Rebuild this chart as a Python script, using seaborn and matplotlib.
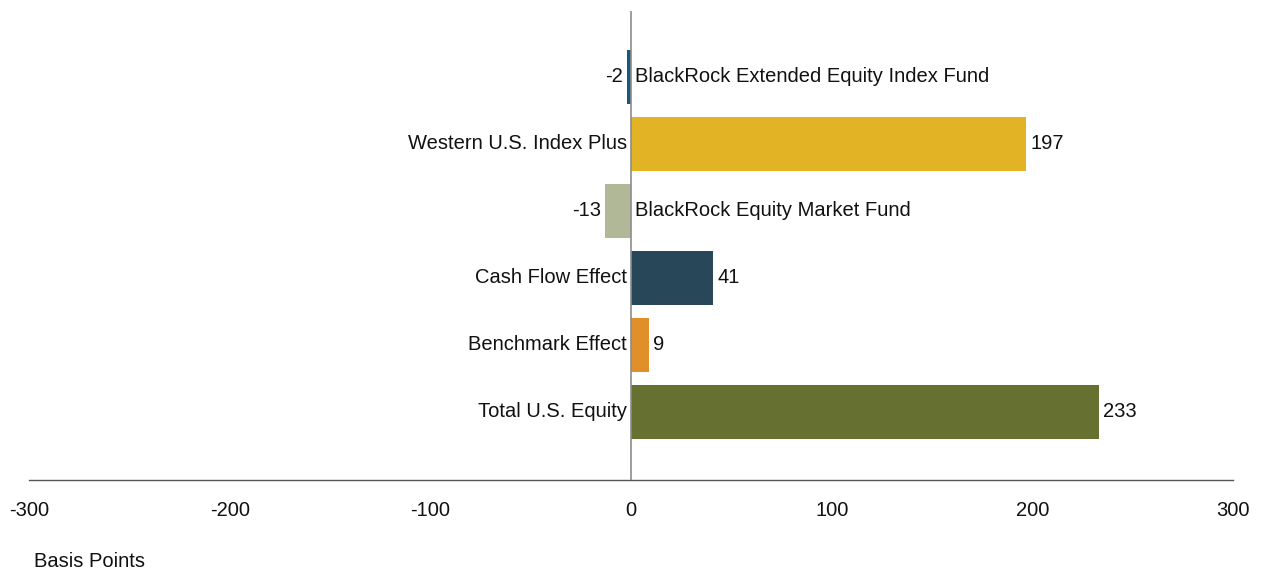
import matplotlib
matplotlib.use("Agg")
import matplotlib.pyplot as plt
import pandas as pd
import seaborn as sns

CATEGORIES = [
    "BlackRock Extended Equity Index Fund",
    "Western U.S. Index Plus",
    "BlackRock Equity Market Fund",
    "Cash Flow Effect",
    "Benchmark Effect",
    "Total U.S. Equity",
]
VALUES = [-2, 197, -13, 41, 9, 233]
COLORS = ["#15597f", "#e3b326", "#b1b897", "#284759", "#e18f2a", "#667031"]
X_TICKS = [-300, -200, -100, 0, 100, 200, 300]
X_LABEL = "Basis Points"

FONT_SIZE = 14.5
TEXT_COLOR = "#111111"

sns.set_theme(style="white")
plt.rcParams["font.family"] = ["Liberation Sans", "DejaVu Sans"]

data = pd.DataFrame({"category": CATEGORIES, "value": VALUES})

fig = plt.figure(figsize=(12.64, 5.76), dpi=100)
ax = fig.add_axes([0.023, 0.167, 0.9525, 0.814])

sns.barplot(
    data=data,
    x="value",
    y="category",
    hue="category",
    palette=COLORS,
    orient="h",
    width=0.8,
    legend=False,
    saturation=1,
    linewidth=0,
    ax=ax,
)

ax.set_xlim(-300, 300)
ax.set_ylim(len(CATEGORIES) + 0.015, -0.985)
ax.axvline(0, color="#8c8c8c", linewidth=1.2, zorder=3)

for spine in ["top", "right", "left"]:
    ax.spines[spine].set_visible(False)
ax.spines["bottom"].set_color("#555555")
ax.spines["bottom"].set_linewidth(1.0)

ax.set_xticks(X_TICKS)
ax.set_xticklabels([str(t) for t in X_TICKS], fontsize=FONT_SIZE, color=TEXT_COLOR)
ax.tick_params(axis="x", length=0, pad=15)
ax.set_yticks([])
ax.set_ylabel("")
ax.set_xlabel("")

pad = 2.0
for i, (name, val) in enumerate(zip(CATEGORIES, VALUES)):
    if val >= 0:
        ax.text(-pad, i, name, ha="right", va="center", fontsize=FONT_SIZE, color=TEXT_COLOR)
        ax.text(val + pad, i, str(val), ha="left", va="center", fontsize=FONT_SIZE, color=TEXT_COLOR)
    else:
        ax.text(pad, i, name, ha="left", va="center", fontsize=FONT_SIZE, color=TEXT_COLOR)
        ax.text(val - pad, i, str(val), ha="right", va="center", fontsize=FONT_SIZE, color=TEXT_COLOR)

fig.text(0.027, 0.008, X_LABEL, ha="left", va="bottom", fontsize=FONT_SIZE, color=TEXT_COLOR)

fig.savefig("out.png", dpi=100)
